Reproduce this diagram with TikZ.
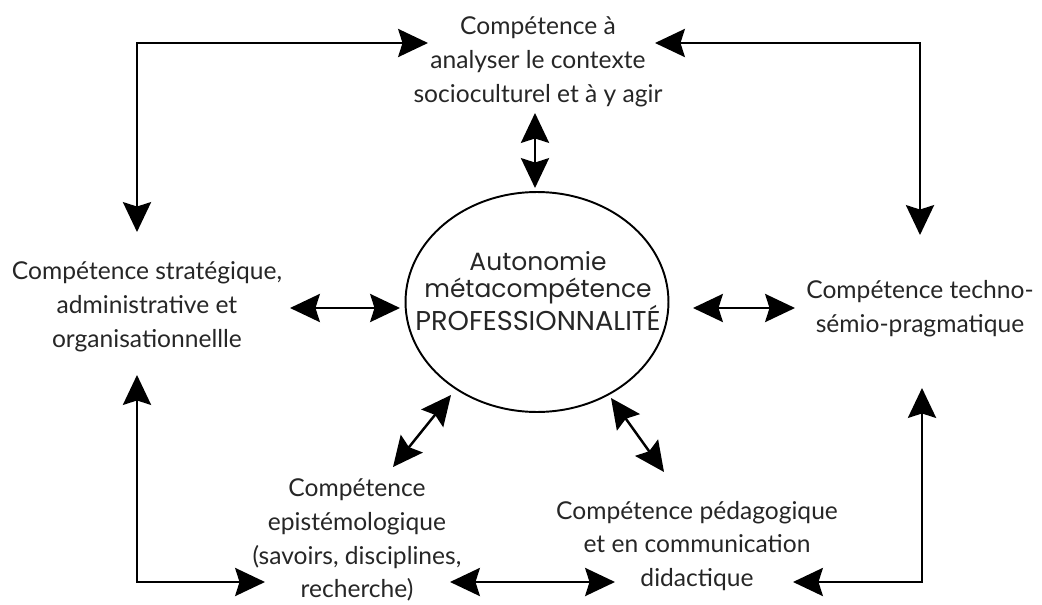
\documentclass[tikz,border=0pt]{standalone}
\usepackage{fontspec}
\setmainfont{Lato}
\newfontfamily\corefont{Poppins}
\usetikzlibrary{shapes, arrows.meta, positioning}

\begin{document}
\begin{tikzpicture}[x=0.02cm, y=-0.02cm,
    comp/.style={align=center, text=black!85, inner sep=0pt, font=\fontsize{14}{19.3}\selectfont},
    core/.style={ellipse, draw, line width=1.1pt, minimum width=5.26cm, minimum height=4.4cm, inner sep=0pt},
    coretext/.style={align=center, text=black!85, inner sep=0pt, font=\corefont\fontsize{14.2}{15.5}\selectfont},
    line/.style={draw, line width=1.4pt, {Stealth[length=17pt, width=16pt, inset=2.5pt]}-{Stealth[length=17pt, width=16pt, inset=2.5pt]}},
    loop/.style={line, rounded corners=0pt}
]
    \useasboundingbox (0,0) rectangle (1042,605);

    % Centre
    \node [core] (core) at (537,302) {};
    \node [coretext] (coretxt) at (538,291) {Autonomie\\ métacompétence\\ {\fontsize{15.5}{18}\selectfont PROFESSIONNALITÉ}};

    % Competences
    \node [comp] (ctx) at (538,62) {Compétence à\\ analyser le contexte\\ socioculturel et à y agir};
    \node [comp] (strat) at (147,307) {Compétence stratégique,\\ administrative et\\ organisationnellle};
    \node [comp] (techno) at (920,309) {Compétence techno-\\ sémio-pragmatique};
    \node [comp] (epi) at (357,540) {Compétence\\ epistémologique\\ (savoirs, disciplines,\\ recherche)};
    \node [comp] (ped) at (697,546) {Compétence pédagogique\\ et en communication\\ didactique};

    % Arrow ends
    \coordinate (ctxW) at (428,43);
    \coordinate (ctxE) at (655,43);
    \coordinate (ctxS) at (535,113);
    \coordinate (coreN) at (535,188);
    \coordinate (stratN) at (137,232);
    \coordinate (stratS) at (137,375);
    \coordinate (stratE) at (290,308);
    \coordinate (coreW) at (400,308);
    \coordinate (technoN) at (920,235);
    \coordinate (technoS) at (922,388);
    \coordinate (technoW) at (795,308);
    \coordinate (coreE) at (693,308);
    \coordinate (epiW) at (265,582);
    \coordinate (epiE) at (450,582);
    \coordinate (pedW) at (615,582);
    \coordinate (pedE) at (793,582);
    \coordinate (epiN) at (393,467);
    \coordinate (coreSW) at (451,395);
    \coordinate (coreSE) at (611,398);
    \coordinate (pedN) at (664,472);

    % Links to the centre
    \path [line] (ctxS) -- (coreN);
    \path [line] (stratE) -- (coreW);
    \path [line] (coreE) -- (technoW);
    \path [line] (coreSW) -- (epiN);
    \path [line] (coreSE) -- (pedN);

    % Outer ring
    \path [loop] (stratN) |- (ctxW);
    \path [loop] (technoN) |- (ctxE);
    \path [loop] (stratS) |- (epiW);
    \path [line] (epiE) -- (pedW);
    \path [loop] (technoS) |- (pedE);
\end{tikzpicture}
\end{document}
